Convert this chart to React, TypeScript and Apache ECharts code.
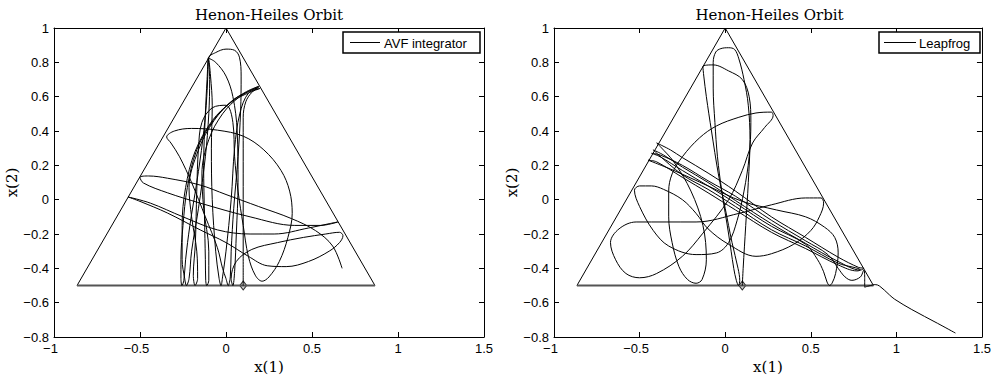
import React, { useEffect, useRef } from "react";
import * as echarts from "echarts";

// Zero-velocity boundary (triangle) of the Henon-Heiles potential at E = 1/6
const triangleSides: number[][] = [
  [-0.866, -0.5],
  [0, 1],
  [0.866, -0.5],
];
const triangleBase: number[][] = [
  [-0.866, -0.5],
  [0.866, -0.5],
];
const startPoint: number[][] = [[0.1, -0.5]];

// AVF integrator orbit
const avfOrbit: number[][] = [
  [0.10, -0.50], [0.10, -0.30], [0.10, 0.00], [0.10, 0.30], [0.10, 0.48], [0.115, 0.57], [0.15, 0.625], [0.19, 0.655],
  [0.12, 0.625], [0.04, 0.58], [-0.075, 0.46], [-0.17, 0.29], [-0.225, 0.07], [-0.25, -0.15], [-0.262, -0.35], [-0.262, -0.46], [-0.256, -0.50], [-0.245, -0.47],
  [-0.235, -0.35], [-0.21, -0.15], [-0.17, 0.10], [-0.135, 0.35], [-0.115, 0.55], [-0.106, 0.72], [-0.103, 0.824],
  [-0.06, 0.857], [0.0, 0.877], [0.05, 0.87], [0.078, 0.83], [0.088, 0.72], [0.085, 0.52], [0.07, 0.25], [0.045, -0.05], [0.03, -0.30], [0.025, -0.45], [0.013, -0.50], [0.0, -0.46],
  [-0.02, -0.40], [-0.05, -0.28], [-0.12, -0.10], [-0.20, 0.10], [-0.27, 0.25], [-0.32, 0.33], [-0.345, 0.365],
  [-0.30, 0.40], [-0.20, 0.415], [-0.05, 0.405], [0.10, 0.37], [0.22, 0.29], [0.32, 0.17], [0.37, 0.05], [0.385, -0.08], [0.36, -0.22], [0.31, -0.36], [0.25, -0.45], [0.21, -0.475], [0.17, -0.44], [0.13, -0.33], [0.10, -0.15], [0.07, 0.05], [0.05, 0.25], [0.04, 0.45], [0.0, 0.55], [-0.08, 0.535], [-0.14, 0.45],
  [-0.16, 0.30], [-0.17, 0.05], [-0.178, -0.25], [-0.19, -0.44], [-0.18, -0.50], [-0.165, -0.46],
  [-0.17, -0.30], [-0.20, -0.10], [-0.215, 0.07], [-0.16, 0.29], [-0.07, 0.46], [0.04, 0.575], [0.198, 0.648],
  [0.13, 0.62], [0.08, 0.50], [0.05, 0.30], [0.03, 0.00], [0.00, -0.30], [-0.02, -0.45], [-0.029, -0.50], [-0.04, -0.46],
  [-0.06, -0.30], [-0.08, 0.00], [-0.085, 0.30], [-0.08, 0.55], [-0.09, 0.72], [-0.102, 0.823],
  [-0.11, 0.70], [-0.12, 0.50], [-0.13, 0.20], [-0.125, -0.10], [-0.12, -0.35], [-0.118, -0.47], [-0.112, -0.50], [-0.10, -0.47],
  [-0.10, -0.30], [-0.13, -0.05], [-0.14, 0.15], [-0.10, 0.35], [-0.02, 0.50], [0.08, 0.60], [0.19, 0.66],
  [0.12, 0.63], [0.03, 0.57], [-0.08, 0.46], [-0.18, 0.28], [-0.235, 0.07], [-0.255, -0.15], [-0.255, -0.35], [-0.24, -0.46], [-0.23, -0.50], [-0.215, -0.46],
  [-0.20, -0.30], [-0.16, -0.05], [-0.12, 0.25], [-0.10, 0.50], [-0.095, 0.70], [-0.103, 0.825],
  [-0.06, 0.80], [0.00, 0.72], [0.04, 0.60], [0.065, 0.40], [0.07, 0.10], [0.06, -0.20], [0.05, -0.42], [0.04, -0.50], [0.03, -0.46],
  [0.06, -0.36], [0.15, -0.29], [0.30, -0.25], [0.45, -0.22], [0.58, -0.20], [0.66, -0.19], [0.68, -0.21],
  [0.66, -0.25], [0.60, -0.30], [0.48, -0.36], [0.35, -0.39], [0.24, -0.385], [0.13, -0.33], [0.00, -0.25], [-0.15, -0.176], [-0.34, -0.078], [-0.50, -0.01], [-0.57, 0.016],
  [-0.44, -0.02], [-0.25, -0.10], [-0.05, -0.176], [0.14, -0.20], [0.28, -0.20], [0.48, -0.165], [0.60, -0.14], [0.65, -0.13],
  [0.55, -0.15], [0.40, -0.15], [0.14, -0.10], [-0.15, -0.02], [-0.34, 0.04], [-0.48, 0.097], [-0.50, 0.13],
  [-0.45, 0.138], [-0.34, 0.125], [-0.15, 0.085], [0.00, 0.03], [0.19, -0.04], [0.38, -0.11], [0.52, -0.18], [0.62, -0.27], [0.675, -0.40],
];

// Leapfrog orbit
const leapfrogOrbit: number[][] = [
  [0.10, -0.50], [0.105, -0.40], [0.12, -0.15], [0.135, 0.10], [0.145, 0.35], [0.135, 0.55], [0.11, 0.70], [0.08, 0.82], [0.055, 0.875],
  [0.02, 0.885], [-0.025, 0.88], [-0.055, 0.86], [-0.07, 0.80], [-0.07, 0.65], [-0.06, 0.45], [-0.045, 0.25], [-0.02, 0.05], [0.02, -0.20], [0.05, -0.40], [0.065, -0.47], [0.078, -0.50], [0.085, -0.47],
  [0.075, -0.40], [0.04, -0.25], [0.00, -0.05], [-0.04, 0.15], [-0.08, 0.40], [-0.11, 0.60], [-0.125, 0.72], [-0.13, 0.775],
  [-0.07, 0.785], [0.02, 0.75], [0.10, 0.70], [0.14, 0.60], [0.15, 0.45], [0.14, 0.25], [0.11, 0.05], [0.07, -0.12], [0.02, -0.25], [-0.05, -0.31], [-0.17, -0.32], [-0.33, -0.27], [-0.42, -0.18], [-0.50, -0.04], [-0.53, 0.055],
  [-0.50, 0.08], [-0.43, 0.08], [-0.36, 0.06], [-0.25, 0.00], [-0.17, -0.08], [-0.10, -0.17], [0.02, -0.26], [0.18, -0.33], [0.27, -0.315], [0.40, -0.26], [0.50, -0.18], [0.55, -0.10], [0.575, -0.02],
  [0.56, 0.01], [0.47, 0.01], [0.27, -0.03], [0.08, -0.08], [-0.17, -0.13], [-0.52, -0.13], [-0.62, -0.17], [-0.67, -0.25],
  [-0.64, -0.35], [-0.58, -0.43], [-0.50, -0.455], [-0.40, -0.43], [-0.25, -0.33], [-0.13, -0.195], [0.02, 0.00], [0.10, 0.17], [0.16, 0.33], [0.23, 0.42], [0.28, 0.49], [0.27, 0.51],
  [0.18, 0.505], [0.08, 0.48], [-0.05, 0.43], [-0.15, 0.36], [-0.25, 0.25], [-0.31, 0.15], [-0.33, 0.05], [-0.33, -0.10], [-0.31, -0.25], [-0.27, -0.39], [-0.22, -0.465], [-0.17, -0.487], [-0.135, -0.465],
  [-0.11, -0.35], [-0.13, -0.15], [-0.20, 0.05], [-0.30, 0.22], [-0.38, 0.31], [-0.40, 0.33],
  [-0.32, 0.29], [-0.25, 0.245], [-0.10, 0.155], [0.06, 0.05], [0.27, -0.10], [0.47, -0.22], [0.66, -0.335], [0.78, -0.395], [0.81, -0.40],
  [0.79, -0.41], [0.66, -0.36], [0.47, -0.255], [0.27, -0.14], [0.06, -0.005], [-0.10, 0.10], [-0.25, 0.19], [-0.36, 0.26], [-0.42, 0.29],
  [-0.40, 0.27], [-0.25, 0.145], [-0.10, 0.06], [0.06, -0.04], [0.27, -0.175], [0.47, -0.27], [0.66, -0.37], [0.79, -0.41],
  [0.77, -0.415], [0.66, -0.38], [0.47, -0.285], [0.27, -0.19], [0.06, -0.06], [-0.10, 0.04], [-0.25, 0.13], [-0.40, 0.22], [-0.45, 0.23],
  [-0.30, 0.17], [-0.10, 0.08], [0.10, -0.01], [0.30, -0.06], [0.47, -0.10], [0.58, -0.16], [0.64, -0.22], [0.66, -0.31], [0.645, -0.43], [0.625, -0.485], [0.61, -0.50], [0.595, -0.48],
  [0.575, -0.42], [0.54, -0.35], [0.47, -0.26], [0.27, -0.155], [0.06, -0.02], [-0.10, 0.08], [-0.25, 0.17], [-0.38, 0.25], [-0.43, 0.27],
  [-0.38, 0.26], [-0.25, 0.20], [-0.10, 0.11], [0.06, 0.02], [0.27, -0.12], [0.47, -0.24], [0.60, -0.32], [0.66, -0.40], [0.70, -0.45], [0.74, -0.47], [0.79, -0.45], [0.81, -0.41], [0.815, -0.46], [0.815, -0.51],
  [0.83, -0.505], [0.85, -0.50], [0.87, -0.495], [0.89, -0.497], [0.91, -0.51], [0.93, -0.527], [0.96, -0.555], [0.99, -0.58], [1.09, -0.64], [1.24, -0.72], [1.345, -0.777],
];

const panelTitles = ["Henon-Heiles Orbit", "Henon-Heiles Orbit"];
const legendNames = ["AVF integrator", "Leapfrog"];
const xLabel = "x(1)";
const yLabel = "x(2)";

const SANS = "'Liberation Sans', Arial, Helvetica, sans-serif";
const SERIF = "'DejaVu Serif', 'Liberation Serif', serif";

const fmt = (v: number) => {
  const r = Math.round(v * 10) / 10;
  const s = String(r === 0 ? 0 : r);
  return s.replace("-", "\u2212");
};

// x labels: keep the number centred on its tick, the minus sign hanging to the left
const fmtX = (v: number) => {
  const s = fmt(v);
  if (s.startsWith("\u2212")) return "{n|" + s + "}{s| }";
  return "{n|" + s + "}";
};

export default function App() {
  const ref = useRef<HTMLDivElement>(null);

  useEffect(() => {
    if (!ref.current) return;
    const chart = echarts.init(ref.current, undefined, { renderer: "svg" });

    const grids = [
      { left: 54, top: 28, width: 430, height: 309 },
      { left: 554, top: 28, width: 431, height: 309 },
    ];

    const xAxes: any[] = [];
    const yAxes: any[] = [];
    const axisLine = { onZero: false, lineStyle: { color: "#000", width: 1 } };
    const axisTick = { inside: true, length: 5, lineStyle: { color: "#000", width: 1 } };
    const labelText = { color: "#000", fontFamily: SANS, fontSize: 13 };
    grids.forEach((_, gi) => {
      xAxes.push({
        gridIndex: gi,
        type: "value",
        min: -1,
        max: 1.5,
        interval: 0.5,
        position: "bottom",
        axisLine,
        axisTick,
        splitLine: { show: false },
        axisLabel: {
          formatter: fmtX,
          ...labelText,
          margin: 5,
          rich: {
            n: { ...labelText },
            s: { ...labelText, width: 7 },
          },
        },
        name: xLabel,
        nameLocation: "middle",
        nameGap: 22,
        nameTextStyle: { fontFamily: SERIF, fontSize: 15, color: "#000" },
      });
      xAxes.push({
        gridIndex: gi,
        type: "value",
        min: -1,
        max: 1.5,
        interval: 0.5,
        position: "top",
        axisLine,
        axisTick,
        splitLine: { show: false },
        axisLabel: { show: false },
      });
      yAxes.push({
        gridIndex: gi,
        type: "value",
        min: -0.8,
        max: 1,
        interval: 0.2,
        position: "left",
        axisLine,
        axisTick,
        splitLine: { show: false },
        axisLabel: { formatter: fmt, ...labelText, margin: 5 },
        name: yLabel,
        nameLocation: "middle",
        nameGap: 34,
        nameRotate: 90,
        nameTextStyle: { fontFamily: SERIF, fontSize: 15, color: "#000" },
      });
      yAxes.push({
        gridIndex: gi,
        type: "value",
        min: -0.8,
        max: 1,
        interval: 0.2,
        position: "right",
        axisLine,
        axisTick,
        splitLine: { show: false },
        axisLabel: { show: false },
      });
    });

    const series: any[] = [];
    const orbits = [avfOrbit, leapfrogOrbit];
    orbits.forEach((orbit, gi) => {
      const xi = gi * 2;
      const yi = gi * 2;
      series.push({
        type: "line",
        xAxisIndex: xi,
        yAxisIndex: yi,
        data: triangleSides,
        showSymbol: false,
        lineStyle: { color: "#000", width: 1 },
        silent: true,
      });
      series.push({
        type: "line",
        xAxisIndex: xi,
        yAxisIndex: yi,
        data: triangleBase,
        showSymbol: false,
        lineStyle: { color: "#555", width: 1.8 },
        silent: true,
      });
      series.push({
        type: "line",
        xAxisIndex: xi,
        yAxisIndex: yi,
        data: orbit,
        showSymbol: false,
        smooth: 0.35,
        lineStyle: { color: "#000", width: 1 },
        silent: true,
      });
      series.push({
        type: "scatter",
        xAxisIndex: xi,
        yAxisIndex: yi,
        data: startPoint,
        symbol: "diamond",
        symbolSize: [7, 9],
        itemStyle: { color: "#c8c8c8", borderColor: "#000", borderWidth: 1 },
        silent: true,
      });
    });

    const legendBoxes = [
      { x: 343, w: 137, lx1: 350, lx2: 380, tx: 384 },
      { x: 879, w: 101, lx1: 884, lx2: 916, tx: 919 },
    ];
    const graphic: any[] = [];
    grids.forEach((g, gi) => {
      graphic.push({
        type: "text",
        x: g.left + g.width / 2,
        y: 15,
        style: {
          text: panelTitles[gi],
          font: `15px ${SERIF}`,
          fill: "#000",
          textAlign: "center",
          textVerticalAlign: "middle",
        },
      });
      const lb = legendBoxes[gi];
      graphic.push({
        type: "rect",
        shape: { x: lb.x, y: 32, width: lb.w, height: 21 },
        style: { fill: "#fff", stroke: "#000", lineWidth: 1.5 },
        z: 100,
      });
      graphic.push({
        type: "line",
        shape: { x1: lb.lx1, y1: 42.5, x2: lb.lx2, y2: 42.5 },
        style: { stroke: "#000", lineWidth: 1 },
        z: 101,
      });
      graphic.push({
        type: "text",
        x: lb.tx,
        y: 43,
        style: {
          text: legendNames[gi],
          font: `13px ${SANS}`,
          fill: "#000",
          textAlign: "left",
          textVerticalAlign: "middle",
        },
        z: 101,
      });
    });

    chart.setOption({
      animation: false,
      backgroundColor: "#fff",
      grid: grids,
      xAxis: xAxes,
      yAxis: yAxes,
      series,
      graphic,
    });

    return () => chart.dispose();
  }, []);

  return (
    <div
      ref={ref}
      style={{ position: "fixed", left: 0, top: 0, width: 994, height: 381, background: "#fff" }}
    />
  );
}
